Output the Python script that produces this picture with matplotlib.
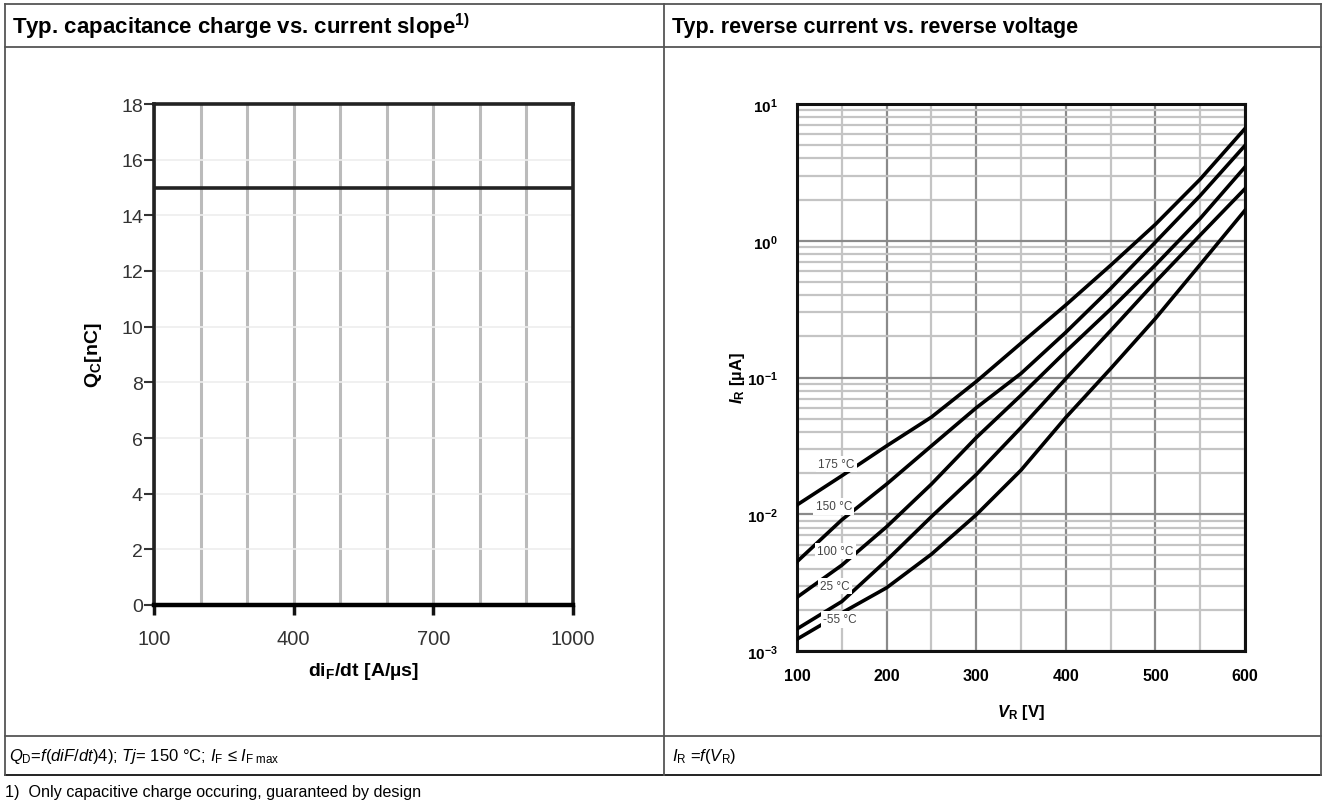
import numpy as np
import matplotlib
matplotlib.use("Agg")
import matplotlib.pyplot as plt
from matplotlib.lines import Line2D
from matplotlib.ticker import FixedLocator, FuncFormatter, LogLocator, NullFormatter

plt.rcParams['font.family'] = ['Liberation Sans', 'DejaVu Sans']
plt.rcParams['mathtext.fontset'] = 'custom'
plt.rcParams['mathtext.rm'] = 'Liberation Sans'
plt.rcParams['mathtext.it'] = 'Liberation Sans:italic'
plt.rcParams['mathtext.bf'] = 'Liberation Sans:bold'
plt.rcParams['mathtext.bfit'] = 'Liberation Sans:italic:bold'

# left chart: capacitive charge vs. current slope
slope = [100, 1000]
charge = [15, 15]

# right chart: reverse current vs. reverse voltage (values in uA)
voltage = [100, 150, 200, 250, 300, 350, 400, 450, 500, 550, 600]
temps = ['175 °C', '150 °C', '100 °C', '25 °C', '-55 °C']
i_175 = [0.0117, 0.0191, 0.0316, 0.0513, 0.0933, 0.178, 0.339, 0.661, 1.318, 2.82, 6.61]
i_150 = [0.0045, 0.0091, 0.0166, 0.0316, 0.060, 0.107, 0.214, 0.447, 0.977, 2.14, 4.97]
i_100 = [0.00247, 0.00424, 0.0081, 0.0166, 0.0363, 0.0741, 0.155, 0.316, 0.665, 1.455, 3.46]
i_25 = [0.00145, 0.0023, 0.0046, 0.0096, 0.0195, 0.043, 0.098, 0.22, 0.50, 1.1, 2.4]
i_m55 = [0.00122, 0.0019, 0.0029, 0.0051, 0.0099, 0.021, 0.051, 0.116, 0.27, 0.67, 1.67]
curves = [i_175, i_150, i_100, i_25, i_m55]
label_pos = [(144, 0.0234), (141, 0.0114), (143, 0.0054), (142, 0.0030), (148, 0.0017)]

W, H = 1324, 812
fig = plt.figure(figsize=(W / 100, H / 100), dpi=100)


def fx(px):
    return px / W


def fy(py):
    return 1 - py / H


def hline(y, x0, x1, lw=1.3, color='#555555'):
    fig.add_artist(Line2D([fx(x0), fx(x1)], [fy(y), fy(y)], lw=lw, color=color,
                          transform=fig.transFigure))


def vline(x, y0, y1, lw=1.3, color='#555555'):
    fig.add_artist(Line2D([fx(x), fx(x)], [fy(y0), fy(y1)], lw=lw, color=color,
                          transform=fig.transFigure))


# table frame
hline(5, 5, 1321)
hline(48, 5, 1321)
hline(737, 5, 1321)
hline(776, 5, 1321, color='#111111')
vline(5, 5, 776)
vline(664, 5, 776)
vline(1321, 5, 776)

fig.text(fx(12), fy(27), r"Typ. capacitance charge vs. current slope$^{\mathbf{1)}}$",
         fontsize=16, fontweight='bold', va='center', ha='left')
fig.text(fx(672), fy(27), "Typ. reverse current vs. reverse voltage",
         fontsize=15.5, fontweight='bold', va='center', ha='left')

fig.text(fx(9), fy(757),
         r"$Q_{\mathrm{D}}\text{=}\mathit{f(diF/dt)4)}\text{; }\mathit{Tj}\text{= 150 °C; }"
         r"\mathit{I}_{\mathrm{F}}\text{ ≤ }\mathit{I}_{\mathrm{F\ max}}$",
         fontsize=12, va='center', ha='left')
fig.text(fx(672), fy(757), r"$\mathit{I}_{\mathrm{R}}\text{ =}\mathit{f(V}_{\mathrm{R}}\mathit{)}$",
         fontsize=12, va='center', ha='left')
fig.text(fx(5), fy(793), "1)  Only capacitive charge occuring, guaranteed by design",
         fontsize=11.6, va='center', ha='left')

# ---- left axes ----
ax1 = fig.add_axes([fx(154), fy(606), fx(573) - fx(154), fy(105) - fy(606)])
ax1.plot(slope, charge, color='#222222', lw=2.6, zorder=3)
ax1.set_xlim(100, 1000)
ax1.set_ylim(0, 18)
ax1.xaxis.set_major_locator(FixedLocator([100, 400, 700, 1000]))
ax1.xaxis.set_minor_locator(FixedLocator(list(range(200, 1000, 100))))
ax1.yaxis.set_major_locator(FixedLocator(list(range(0, 19, 2))))
ax1.grid(True, axis='x', which='both', color='#bbbbbb', lw=2.2)
ax1.grid(True, axis='y', which='major', color='#eeeeee', lw=1.2)
ax1.set_axisbelow(True)
ax1.tick_params(axis='x', which='major', direction='out', length=7, width=2.5,
                color='#111111', labelsize=14.5, labelcolor='#333333', pad=10)
ax1.tick_params(axis='x', which='minor', length=0)
ax1.tick_params(axis='y', direction='out', length=7, width=1.5, color='#333333',
                labelsize=14, labelcolor='#333333', pad=1)
for s in ax1.spines.values():
    s.set_linewidth(2.6)
    s.set_color('#222222')
ax1.spines['bottom'].set_linewidth(3.2)
ax1.spines['bottom'].set_color('#000000')
ax1.set_xlabel(r"di$_{\mathbf{F}}$/dt [A/µs]", fontsize=14, fontweight='bold', labelpad=9)
ax1.set_ylabel(r"Q$_{\mathbf{C}}$[nC]", fontsize=14, fontweight='bold', labelpad=12)

# ---- right axes ----
ax2 = fig.add_axes([fx(797), fy(652), fx(1245) - fx(797), fy(105) - fy(652)])
for vals in curves:
    ax2.plot(voltage, vals, color='black', lw=2.6, zorder=3, solid_joinstyle='round')
for name, (xv, yv) in zip(temps, label_pos):
    ax2.text(xv, yv, name, fontsize=8.5, color='#444444', ha='center', va='center', zorder=5,
             bbox=dict(facecolor='white', edgecolor='none', pad=1.5))
ax2.set_yscale('log')
ax2.set_xlim(100, 600)
ax2.set_ylim(1e-3, 1e1)
ax2.xaxis.set_major_locator(FixedLocator([100, 200, 300, 400, 500, 600]))
ax2.xaxis.set_minor_locator(FixedLocator([150, 250, 350, 450, 550]))
ax2.yaxis.set_major_locator(LogLocator(base=10, numticks=10))
ax2.yaxis.set_minor_locator(LogLocator(base=10, subs=np.arange(2, 10), numticks=20))
ax2.yaxis.set_minor_formatter(NullFormatter())
ax2.yaxis.set_major_formatter(FuncFormatter(lambda v, p: r"$\mathbf{10^{%d}}$" % round(np.log10(v))))
ax2.grid(True, which='major', color='#8a8a8a', lw=1.6)
ax2.grid(True, which='minor', color='#c4c4c4', lw=1.6)
ax2.set_axisbelow(True)
ax2.tick_params(which='both', length=0)
ax2.tick_params(axis='x', labelsize=11.5, pad=12)
ax2.tick_params(axis='y', labelsize=11, pad=14)
for lab in ax2.get_xticklabels():
    lab.set_fontweight('bold')
for s in ax2.spines.values():
    s.set_linewidth(2.2)
    s.set_color('#111111')
ax2.set_xlabel(r"$\mathbfit{V}_{\mathbf{R}}$ [V]", fontsize=12, fontweight='bold', labelpad=14)
ax2.set_ylabel(r"$\mathbfit{I}_{\mathbf{R}}$ [µA]", fontsize=12, fontweight='bold', labelpad=0)

fig.savefig('out.png', dpi=100)
